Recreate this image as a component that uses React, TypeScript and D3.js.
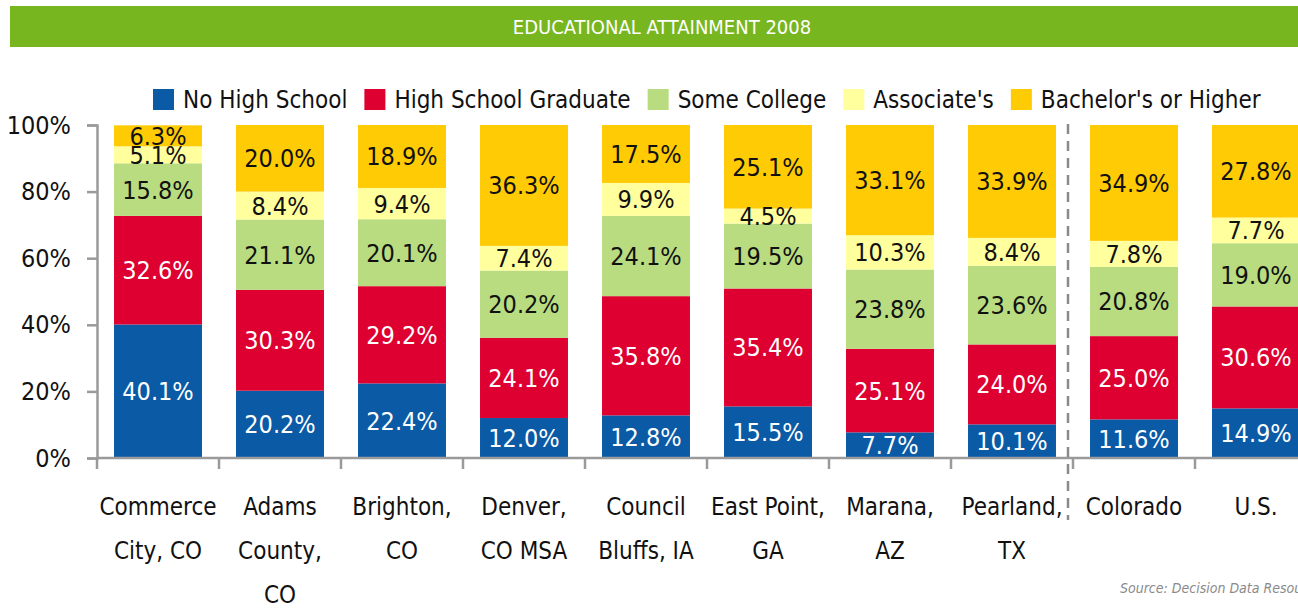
import React, { useEffect, useRef } from 'react';
import * as d3 from 'd3';

const categories = [
  'Commerce\nCity, CO',
  'Adams\nCounty,\nCO',
  'Brighton,\nCO',
  'Denver,\nCO MSA',
  'Council\nBluffs, IA',
  'East Point,\nGA',
  'Marana,\nAZ',
  'Pearland,\nTX',
  'Colorado',
  'U.S.',
];
const seriesNames = ['No High School', 'High School Graduate', 'Some College', "Associate's", "Bachelor's or Higher"];
const noHighSchool = [40.1, 20.2, 22.4, 12.0, 12.8, 15.5, 7.7, 10.1, 11.6, 14.9];
const highSchoolGrad = [32.6, 30.3, 29.2, 24.1, 35.8, 35.4, 25.1, 24.0, 25.0, 30.6];
const someCollege = [15.8, 21.1, 20.1, 20.2, 24.1, 19.5, 23.8, 23.6, 20.8, 19.0];
const associates = [5.1, 8.4, 9.4, 7.4, 9.9, 4.5, 10.3, 8.4, 7.8, 7.7];
const bachelors = [6.3, 20.0, 18.9, 36.3, 17.5, 25.1, 33.1, 33.9, 34.9, 27.8];
const yTicks = [0, 20, 40, 60, 80, 100];

const colors = ['#0A5AA6', '#DD0030', '#B9DC80', '#FFFF9E', '#FFCB05'];
const labelColors = ['#fff', '#fff', '#111', '#111', '#111'];
const FONT = "'Liberation Sans Narrow', 'Arial Narrow', 'DejaVu Sans Condensed', sans-serif";

const W = 1298;
const H = 610;

const App = () => {
  const ref = useRef<SVGSVGElement>(null);

  useEffect(() => {
    const svg = d3.select(ref.current);
    svg.selectAll('*').remove();

    const values = [noHighSchool, highSchoolGrad, someCollege, associates, bachelors];
    const rows = categories.map((c, i) => {
      const r: any = { cat: c };
      seriesNames.forEach((s, k) => (r[s] = values[k][i]));
      return r;
    });
    const stacked = d3.stack().keys(seriesNames)(rows);

    const x = d3
      .scaleBand()
      .domain(categories)
      .range([97, 97 + 122 * categories.length])
      .paddingInner(0.279)
      .paddingOuter(0.1395);
    const y = d3.scaleLinear().domain([0, 100]).range([458, 125]);

    // title bar
    svg.append('rect').attr('x', 10).attr('y', 6).attr('width', W - 10).attr('height', 41).attr('fill', '#77B61F');
    svg
      .append('text')
      .attr('x', 662)
      .attr('y', 27)
      .attr('dy', '0.35em')
      .attr('text-anchor', 'middle')
      .attr('fill', '#fff')
      .style('font-family', FONT)
      .style('font-size', '20px')
      .text('EDUCATIONAL ATTAINMENT 2008');

    // bars
    const layers = svg
      .append('g')
      .selectAll('g')
      .data(stacked)
      .enter()
      .append('g')
      .attr('fill', (_d, i) => colors[i]);
    layers
      .selectAll('rect')
      .data((d) => d)
      .enter()
      .append('rect')
      .attr('x', (d: any) => x(d.data.cat)!)
      .attr('width', x.bandwidth())
      .attr('y', (d) => y(Math.min(d[1], 100)))
      .attr('height', (d) => y(d[0]) - y(Math.min(d[1], 100)));

    // value labels
    stacked.forEach((layer, k) => {
      svg
        .append('g')
        .selectAll('text')
        .data(layer)
        .enter()
        .append('text')
        .attr('x', (d: any) => x(d.data.cat)! + x.bandwidth() / 2)
        .attr('y', (d) => (y(d[0]) + y(Math.min(d[1], 100))) / 2)
        .attr('dy', '0.36em')
        .attr('text-anchor', 'middle')
        .attr('fill', labelColors[k])
        .style('font-family', FONT)
        .style('font-size', '25px')
        .text((d) => (d[1] - d[0]).toFixed(1) + '%');
    });

    // y axis
    const yAxis = svg
      .append('g')
      .attr('transform', 'translate(97,0)')
      .call(d3.axisLeft(y).tickValues(yTicks).tickFormat((d) => d + '%').tickSize(10).tickPadding(16));
    yAxis.selectAll('line, path').attr('stroke', '#9a9a9a').attr('stroke-width', 2.5);
    yAxis.selectAll('text').style('font-family', FONT).style('font-size', '25px').attr('fill', '#111');

    // x axis
    const xAxis = svg.append('g').attr('transform', 'translate(0,458)');
    xAxis
      .append('line')
      .attr('x1', 97)
      .attr('x2', W)
      .attr('stroke', '#9a9a9a')
      .attr('stroke-width', 2.5);
    xAxis
      .selectAll('line.tick')
      .data(d3.range(categories.length + 1))
      .enter()
      .append('line')
      .attr('class', 'tick')
      .attr('x1', (i) => 97 + i * x.step())
      .attr('x2', (i) => 97 + i * x.step())
      .attr('y1', 0)
      .attr('y2', 11)
      .attr('stroke', '#9a9a9a')
      .attr('stroke-width', 2.5);

    const xl = svg
      .append('g')
      .selectAll('text')
      .data(categories)
      .enter()
      .append('text')
      .attr('text-anchor', 'middle')
      .attr('fill', '#111')
      .style('font-family', FONT)
      .style('font-size', '24px');
    xl.each(function (c) {
      const t = d3.select(this);
      c.split('\n').forEach((line, li) => {
        t.append('tspan')
          .attr('x', x(c)! + x.bandwidth() / 2)
          .attr('y', 515 + li * 44)
          .text(line);
      });
    });

    // dashed separator
    const sepX = x('Colorado')! - (x.step() - x.bandwidth()) / 2 - 5;
    svg
      .append('line')
      .attr('x1', sepX)
      .attr('x2', sepX)
      .attr('y1', 124)
      .attr('y2', 520)
      .attr('stroke', '#8a8a8a')
      .attr('stroke-width', 2.5)
      .attr('stroke-dasharray', '10,7');

    // legend
    const legend = svg.append('g').attr('transform', 'translate(153,99)');
    let lx = 0;
    seriesNames.forEach((s, i) => {
      legend.append('rect').attr('x', lx).attr('y', -10).attr('width', 21).attr('height', 21).attr('fill', colors[i]);
      const t = legend
        .append('text')
        .attr('x', lx + 30)
        .attr('y', 0)
        .attr('dy', '0.36em')
        .attr('fill', '#111')
        .style('font-family', FONT)
        .style('font-size', '24px')
        .text(s);
      const w = (t.node() as SVGTextElement).getComputedTextLength();
      lx += 30 + w + 17;
    });

    // source
    svg
      .append('text')
      .attr('x', 1120)
      .attr('y', 593)
      .attr('fill', '#8a8a8a')
      .style('font-family', FONT)
      .style('font-size', '14px')
      .style('font-style', 'italic')
      .text('Source: Decision Data Resources');
  }, []);

  return (
    <div style={{ position: 'fixed', left: 0, top: 0 }}>
      <svg ref={ref} width={W} height={H} style={{ display: 'block', background: '#fff' }} />
    </div>
  );
};

export default App;
